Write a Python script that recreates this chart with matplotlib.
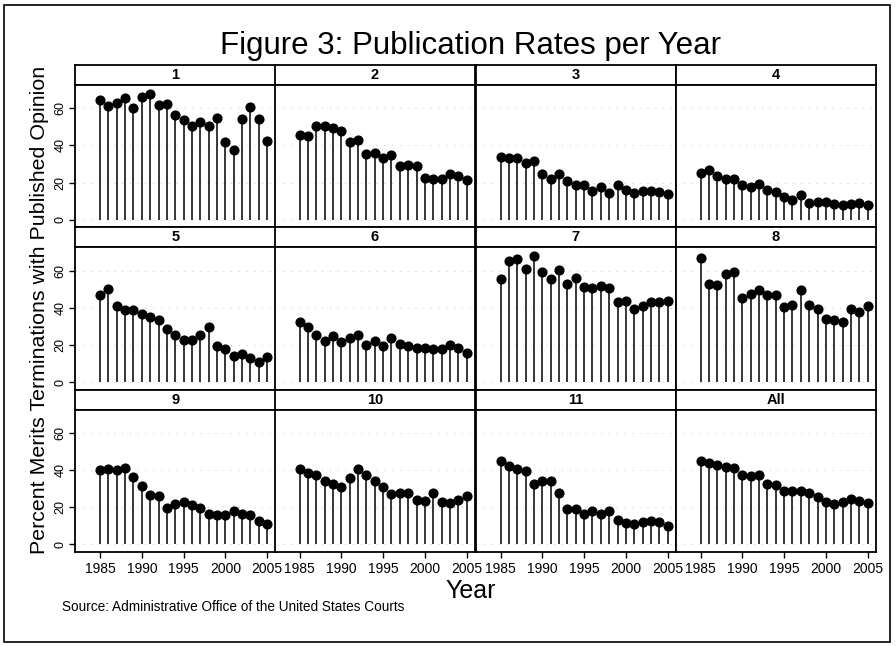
import matplotlib.pyplot as plt
from matplotlib.patches import Rectangle

plt.rcParams['font.family'] = ['Liberation Sans', 'DejaVu Sans']

years = list(range(1985, 2006))
circuits = ['1', '2', '3', '4', '5', '6', '7', '8', '9', '10', '11', 'All']

rate_1 = [64.5, 61.4, 62.7, 65.7, 60.4, 66.3, 67.7, 61.8, 62.3, 56.2, 53.6,
          50.3, 52.7, 50.2, 54.6, 41.6, 37.6, 54.4, 60.5, 54.4, 42.6]
rate_2 = [45.7, 45.3, 50.3, 50.3, 49.3, 48.0, 41.9, 43.2, 35.6, 35.8, 33.3,
          34.6, 29.2, 29.7, 29.0, 22.4, 22.0, 21.7, 24.9, 23.8, 21.5]
rate_3 = [33.9, 33.0, 33.0, 30.3, 31.7, 24.9, 22.0, 24.7, 21.0, 18.8, 19.0,
          15.6, 17.4, 14.5, 18.6, 16.1, 14.3, 15.6, 15.6, 15.2, 13.8]
rate_4 = [25.1, 27.0, 23.6, 22.0, 22.2, 18.6, 17.9, 19.5, 16.1, 15.0, 12.5,
          10.7, 13.4, 9.3, 9.7, 9.5, 8.4, 8.2, 8.6, 9.0, 8.1]
rate_5 = [47.1, 50.0, 41.0, 38.7, 38.7, 36.7, 34.9, 33.3, 28.7, 25.6, 22.8,
          22.8, 25.3, 29.4, 19.5, 17.6, 14.3, 15.4, 13.1, 10.6, 13.3]
rate_6 = [32.3, 29.4, 25.3, 22.0, 24.6, 21.7, 23.7, 25.3, 19.9, 21.9, 19.2,
          23.5, 20.3, 19.7, 18.3, 18.1, 17.7, 17.9, 19.9, 18.3, 15.6]
rate_7 = [55.2, 65.2, 66.1, 61.1, 67.9, 59.3, 55.7, 60.2, 53.0, 56.1, 51.1,
          50.5, 51.6, 50.4, 43.0, 43.4, 39.4, 41.2, 43.0, 43.0, 43.4]
rate_8 = [66.5, 53.0, 52.3, 58.1, 59.1, 45.2, 47.3, 49.3, 47.0, 46.8, 40.5,
          41.6, 49.8, 41.6, 39.4, 33.7, 33.5, 32.6, 39.2, 37.5, 40.7]
rate_9 = [39.8, 40.7, 40.0, 40.9, 36.2, 31.2, 26.7, 25.9, 19.8, 21.8, 22.7,
          21.3, 19.6, 16.4, 15.9, 15.9, 18.0, 16.2, 16.0, 12.8, 11.0]
rate_10 = [40.7, 38.2, 37.1, 34.1, 32.4, 30.8, 35.9, 40.7, 37.5, 34.1, 30.8,
           27.0, 27.4, 27.4, 23.8, 23.2, 27.4, 22.7, 22.2, 24.0, 26.1]
rate_11 = [44.7, 42.0, 40.4, 39.5, 32.4, 33.9, 34.1, 27.7, 18.9, 18.9, 16.4,
           17.8, 16.6, 17.8, 13.3, 11.5, 11.2, 11.9, 12.4, 12.1, 9.9]
rate_all = [44.7, 43.8, 42.5, 41.8, 41.1, 37.5, 36.9, 37.3, 32.6, 31.9, 28.8,
            28.5, 29.0, 27.6, 25.6, 22.7, 21.8, 22.9, 24.5, 23.2, 22.2]

rates = [rate_1, rate_2, rate_3, rate_4, rate_5, rate_6,
         rate_7, rate_8, rate_9, rate_10, rate_11, rate_all]

W, H = 896, 646
fig = plt.figure(figsize=(W / 100, H / 100), dpi=100)

# panel grid in pixels
col_left = [75, 274.5, 475.5, 675.5]
col_w = 200.5
row_top = [65, 227.3, 389.6]
strip_h = 20
plot_h = 142.3


def px_box(x, y, w, h):
    return [x / W, 1 - (y + h) / H, w / W, h / H]


for i, (name, vals) in enumerate(zip(circuits, rates)):
    r, c = divmod(i, 4)
    x0 = col_left[c]
    y0 = row_top[r]

    # strip with the circuit name
    sax = fig.add_axes(px_box(x0, y0, col_w, strip_h))
    sax.set_xticks([])
    sax.set_yticks([])
    for s in sax.spines.values():
        s.set_linewidth(1.3)
    sax.text(0.5, 0.5, name, ha='center', va='center', fontsize=10.5,
             fontweight='bold', transform=sax.transAxes)

    ax = fig.add_axes(px_box(x0, y0 + strip_h, col_w, plot_h))
    for s in ax.spines.values():
        s.set_linewidth(1.3)
    ax.set_xlim(1982, 2006)
    ax.set_ylim(-4, 72.5)
    ax.set_yticks([0, 20, 40, 60])
    ax.grid(axis='y', color='#c8c8c8', linestyle=(0, (1, 7)), linewidth=0.7)
    ax.set_axisbelow(True)

    ax.vlines(years, 0, vals, color='black', linewidth=1.1)
    ax.plot(years, vals, 'o', color='black', markersize=6.3)

    if c == 0:
        ax.tick_params(axis='y', length=4, width=1, labelsize=9, pad=2)
        for lab in ax.get_yticklabels():
            lab.set_rotation(90)
            lab.set_va('center')
    else:
        ax.tick_params(axis='y', length=0, labelleft=False)

    if r == 2:
        ax.set_xticks([1985, 1990, 1995, 2000, 2005])
        ax.tick_params(axis='x', length=4, width=1, labelsize=10, pad=3)
    else:
        ax.set_xticks([])

fig.text(470 / W, 1 - 46 / H, 'Figure 3: Publication Rates per Year',
         ha='center', va='center', fontsize=22.5)
fig.text(40 / W, 1 - 310 / H,
         'Percent Merits Terminations with Published Opinion',
         ha='center', va='center', rotation=90, fontsize=15.4)
fig.text(471 / W, 1 - 591 / H, 'Year', ha='center', va='center', fontsize=18)
fig.text(62 / W, 1 - 607 / H,
         'Source: Administrative Office of the United States Courts',
         ha='left', va='center', fontsize=9.8)

# border around the whole figure
fig.patches.append(Rectangle((4 / W, 4 / H), 1 - 10 / W, 1 - 9 / H,
                             transform=fig.transFigure, fill=False,
                             edgecolor='black', linewidth=1.2))

fig.savefig('out.png', dpi=100)
